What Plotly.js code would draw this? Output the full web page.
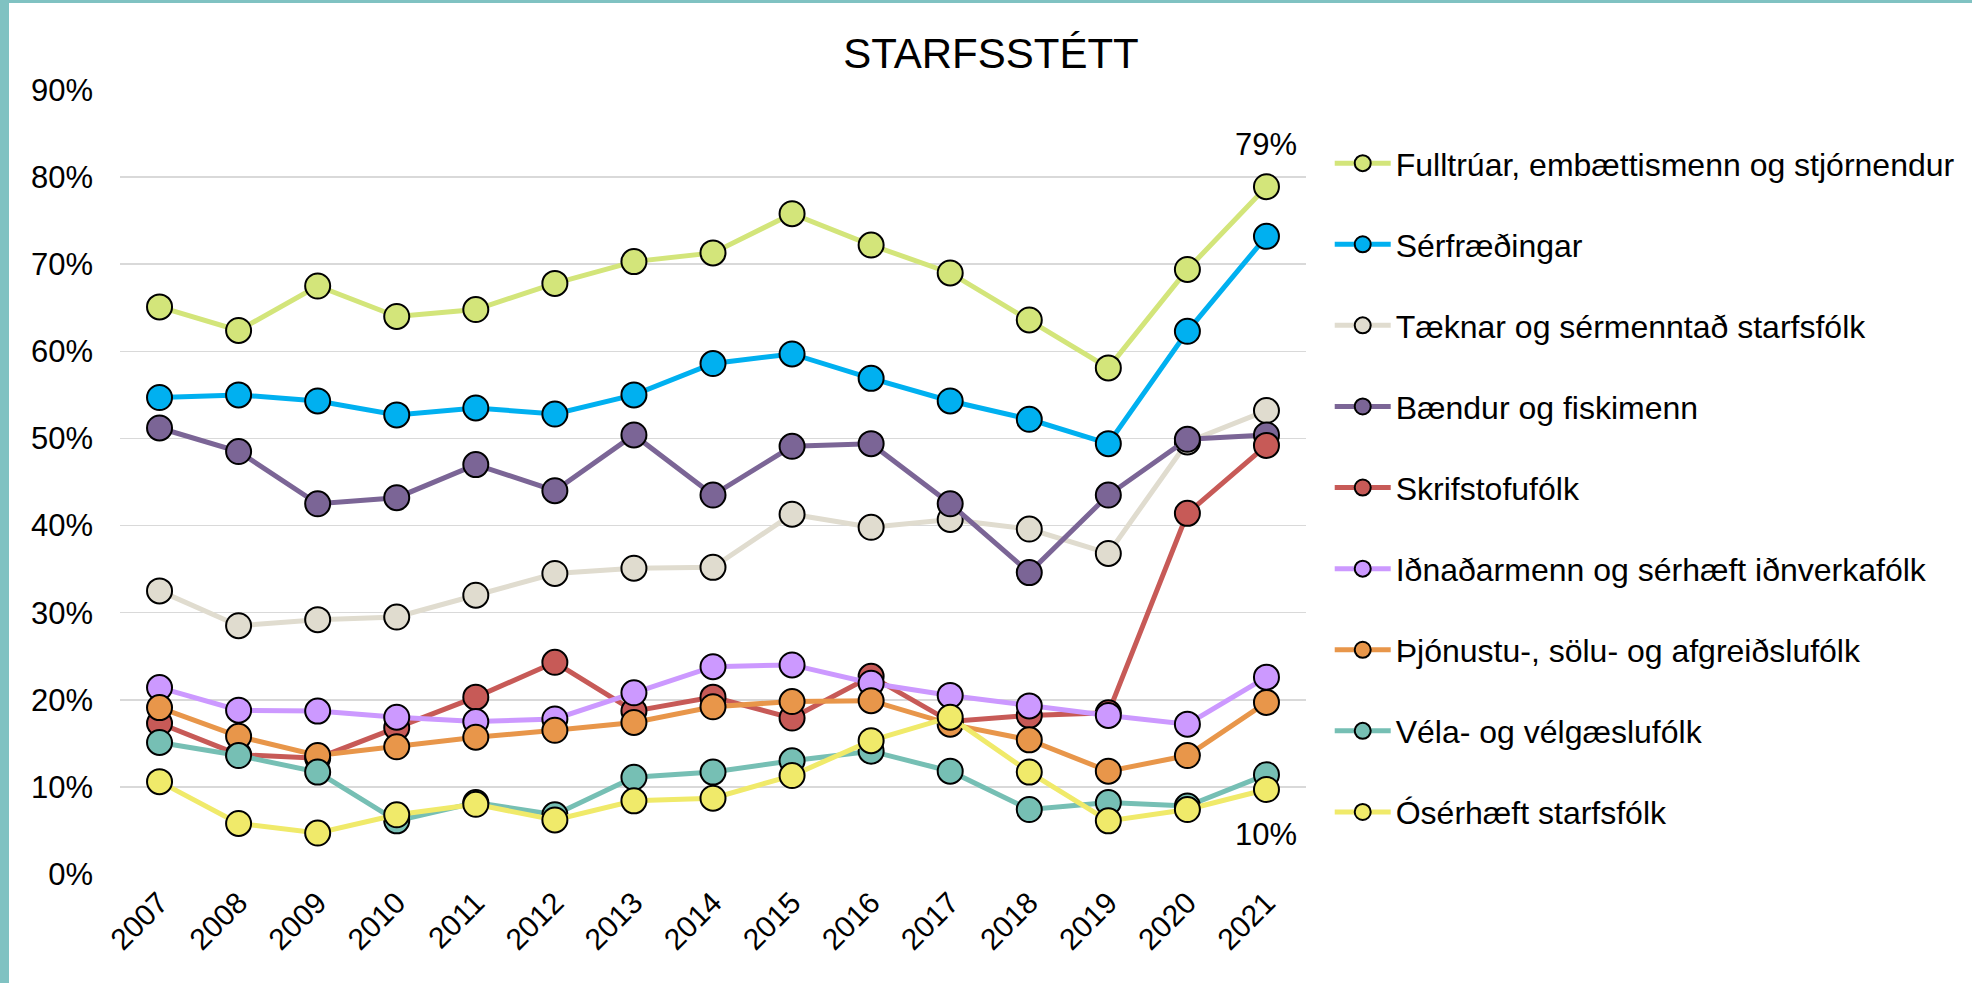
<!DOCTYPE html>
<html>
<head>
<meta charset="utf-8">
<script src="https://cdn.plot.ly/plotly-3.0.1.min.js"></script>
<style>
  html, body { margin: 0; padding: 0; background: #ffffff; }
  #wrap { position: relative; width: 1972px; height: 983px; overflow: hidden; }
  #chart { position: absolute; left: 0; top: 0; width: 1972px; height: 983px; }
  .bl { position: absolute; left: 0; top: 0; width: 9px; height: 983px; background: #80C2C2; }
  .bt { position: absolute; left: 0; top: 0; width: 1972px; height: 3px; background: #80C2C2; }
</style>
</head>
<body>
<div id="wrap">
  <div id="chart"></div>
  <div class="bl"></div>
  <div class="bt"></div>
</div>
<script>
const years = ['2007','2008','2009','2010','2011','2012','2013','2014','2015','2016','2017','2018','2019','2020','2021'];

const seriesNames = [
  'Fulltrúar, embættismenn og stjórnendur',
  'Sérfræðingar',
  'Tæknar og sérmenntað starfsfólk',
  'Bændur og fiskimenn',
  'Skrifstofufólk',
  'Iðnaðarmenn og sérhæft iðnverkafólk',
  'Þjónustu-, sölu- og afgreiðslufólk',
  'Véla- og vélgæslufólk',
  'Ósérhæft starfsfólk'
];

const fulltruar   = [65.1, 62.4, 67.5, 64.0, 64.8, 67.8, 70.3, 71.3, 75.8, 72.2, 69.0, 63.6, 58.1, 69.4, 78.9];
const serfraedingar = [54.7, 55.0, 54.3, 52.7, 53.5, 52.8, 55.0, 58.6, 59.7, 56.9, 54.3, 52.2, 49.4, 62.3, 73.2];
const taeknar     = [32.5, 28.5, 29.2, 29.5, 32.0, 34.5, 35.1, 35.2, 41.3, 39.8, 40.7, 39.6, 36.8, 49.6, 53.2];
const baendur     = [51.2, 48.5, 42.5, 43.2, 47.0, 44.0, 50.4, 43.5, 49.1, 49.4, 42.5, 34.6, 43.5, 49.9, 50.4];
const skrifstofu  = [17.3, 13.7, 13.3, 16.8, 20.3, 24.3, 18.7, 20.3, 17.9, 22.7, 17.5, 18.2, 18.5, 41.4, 49.2];
const idnadarmenn = [21.4, 18.8, 18.7, 18.0, 17.5, 17.8, 20.8, 23.8, 24.0, 21.9, 20.5, 19.3, 18.2, 17.2, 22.6];
const thjonustu   = [19.1, 15.8, 13.6, 14.6, 15.7, 16.5, 17.4, 19.2, 19.8, 19.9, 17.2, 15.4, 11.8, 13.6, 19.7];
const vela        = [15.1, 13.6, 11.7, 6.1, 8.2, 6.8, 11.1, 11.7, 13.0, 14.1, 11.8, 7.4, 8.2, 7.8, 11.4];
const oserhaeft   = [10.6, 5.8, 4.7, 6.8, 8.0, 6.2, 8.4, 8.7, 11.3, 15.3, 18.0, 11.7, 6.1, 7.4, 9.7];

const seriesValues = [fulltruar, serfraedingar, taeknar, baendur, skrifstofu, idnadarmenn, thjonustu, vela, oserhaeft];
const seriesColors = ['#D3E57A', '#00B0F0', '#E0DCCF', '#7B6596', '#C75A57', '#CC99FF', '#E8964A', '#76BFB4', '#F0EA6A'];

const yTickVals = [0, 0.1, 0.2, 0.3, 0.4, 0.5, 0.6, 0.7, 0.8, 0.9];
const yTickText = ['0%','10%','20%','30%','40%','50%','60%','70%','80%','90%'];

const FONT = 'Liberation Sans, Arial, sans-serif';

const traces = seriesNames.map((name, i) => ({
  type: 'scatter',
  mode: 'lines+markers',
  name: name,
  legendgroup: 'g' + i,
  x: years,
  y: seriesValues[i].map(v => v / 100),
  line: { color: seriesColors[i], width: 5 },
  marker: { color: seriesColors[i], size: 25, line: { color: '#000000', width: 2 } },
  hoverinfo: 'x+y+name'
}));

const lastIdx = years.length - 1;

const layout = {
  width: 1972,
  height: 983,
  paper_bgcolor: '#ffffff',
  plot_bgcolor: '#ffffff',
  margin: { l: 120, r: 666, t: 90, b: 109, pad: 0 },
  font: { family: FONT, color: '#000000', size: 30 },
  title: {
    text: 'STARFSSTÉTT',
    font: { family: FONT, size: 42, color: '#000000' },
    xref: 'container', x: 0.5025, xanchor: 'center',
    yref: 'container', y: 0.946, yanchor: 'middle'
  },
  xaxis: {
    type: 'category',
    range: [-0.5, 14.5],
    tickangle: -45,
    tickfont: { size: 30, family: FONT, color: '#000000' },
    showgrid: false,
    showline: false,
    zeroline: false,
    ticks: '',
    ticklabelstandoff: 4,
    fixedrange: true
  },
  yaxis: {
    range: [0, 0.9],
    tickvals: yTickVals,
    ticktext: yTickText,
    tickfont: { size: 31, family: FONT, color: '#000000' },
    showgrid: true,
    gridcolor: '#D9D9D9',
    gridwidth: 1.5,
    zeroline: false,
    showline: false,
    ticks: '',
    ticklabelstandoff: 26,
    fixedrange: true
  },
  showlegend: true,
  legend: {
    x: 1.02, xanchor: 'left',
    y: 0.9415, yanchor: 'top',
    traceorder: 'grouped',
    tracegroupgap: 36.5,
    itemwidth: 56,
    font: { family: FONT, size: 32, color: '#000000' },
    bgcolor: 'rgba(0,0,0,0)'
  },
  annotations: [
    { x: lastIdx, y: fulltruar[lastIdx] / 100, xref: 'x', yref: 'y', text: Math.round(fulltruar[lastIdx]) + '%',
      showarrow: false, yshift: 42, font: { size: 31, family: FONT, color: '#000000' } },
    { x: lastIdx, y: oserhaeft[lastIdx] / 100, xref: 'x', yref: 'y', text: Math.round(oserhaeft[lastIdx]) + '%',
      showarrow: false, yshift: -45, font: { size: 31, family: FONT, color: '#000000' } }
  ]
};

Plotly.newPlot('chart', traces, layout, { displayModeBar: false, staticPlot: true });
</script>
</body>
</html>
